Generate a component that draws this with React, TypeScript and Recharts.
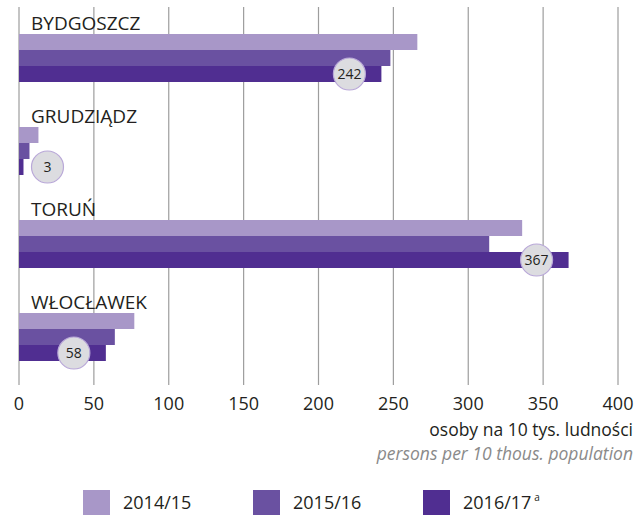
import { Bar, BarChart, CartesianGrid, Label, LabelList, XAxis, YAxis } from 'recharts'

const cities = ['BYDGOSZCZ', 'GRUDZIĄDZ', 'TORUŃ', 'WŁOCŁAWEK']
const y2014 = [266, 13, 336, 77]
const y2015 = [248, 7, 314, 64]
const y2016 = [242, 3, 367, 58]
const ticks = [0, 50, 100, 150, 200, 250, 300, 350, 400]
const seasons = ['2014/15', '2015/16', '2016/17']
const colors = ['#a897c8', '#6a51a1', '#502e91']

const FONT = "'Open Sans', sans-serif"
const INK = '#231f20'

const data = cities.map((city, i) => ({ city, s1: y2014[i], s2: y2015[i], s3: y2016[i] }))

// city name sits just above its first bar
function CityName({ x, y, value }: any) {
  return (
    <text x={x + 12} y={y - 4} fontSize={19} fill={INK} fontFamily={FONT}>
      {value}
    </text>
  )
}

// grey circle badge with the latest value
function Badge({ x, y, width, height, value }: any) {
  const end = x + width
  const cx = width > 40 ? end - 32 : end + 24
  const cy = y + height / 2
  return (
    <g>
      <circle cx={cx} cy={cy} r={16} fill="#dcdce0" stroke="#b9a8d8" strokeWidth={1.2} />
      <text x={cx} y={cy} dy="0.36em" textAnchor="middle" fontSize={14} fill={INK} fontFamily={FONT}>
        {value}
      </text>
    </g>
  )
}

function AxisTitle({ viewBox }: any) {
  const right = viewBox.x + viewBox.width + 15
  return (
    <g fontFamily={FONT} fontSize={17.5} textAnchor="end">
      <text x={right} y={viewBox.y + 51} fill={INK}>osoby na 10 tys. ludności</text>
      <text x={right} y={viewBox.y + 75} fill="#8a8a8a" fontStyle="italic">persons per 10 thous. population</text>
    </g>
  )
}

export default function App() {
  return (
    <div style={{ position: 'absolute', left: 0, top: 0, width: 638, height: 516, background: '#fff', fontFamily: FONT }}>
      <BarChart
        width={638}
        height={516}
        data={data}
        layout="vertical"
        barSize={16}
        barGap={0}
        margin={{ top: 7, right: 20, left: 19, bottom: 101 }}
      >
        <CartesianGrid horizontal={false} stroke="#9d9d9d" strokeWidth={1.2} />
        <XAxis
          type="number"
          domain={[0, 400]}
          ticks={ticks}
          axisLine={false}
          tickLine={false}
          tickMargin={6}
          height={30}
          tick={{ fontSize: 18, fill: INK, fontFamily: FONT }}
        >
          <Label content={<AxisTitle />} />
        </XAxis>
        <YAxis
          type="category"
          dataKey="city"
          width={0}
          hide
          padding={{ top: 4, bottom: 2 }}
        />
        <Bar dataKey="s1" name={seasons[0]} fill={colors[0]} isAnimationActive={false}>
          <LabelList dataKey="city" content={<CityName />} />
        </Bar>
        <Bar dataKey="s2" name={seasons[1]} fill={colors[1]} isAnimationActive={false} />
        <Bar dataKey="s3" name={seasons[2]} fill={colors[2]} isAnimationActive={false}>
          <LabelList dataKey="s3" content={<Badge />} />
        </Bar>
      </BarChart>
      <div style={{ position: 'absolute', left: 83, top: 490, display: 'flex' }}>
        {seasons.map((s, i) => (
          <div key={s} style={{ width: 170, display: 'flex', alignItems: 'center' }}>
            <div style={{ width: 27, height: 25, background: colors[i], marginRight: 13 }} />
            <span style={{ fontSize: 18, color: INK, lineHeight: '25px' }}>
              {s}
              {i === 2 && <sup style={{ fontSize: 10, marginLeft: 3, verticalAlign: 'top', lineHeight: '14px' }}>a</sup>}
            </span>
          </div>
        ))}
      </div>
    </div>
  )
}
